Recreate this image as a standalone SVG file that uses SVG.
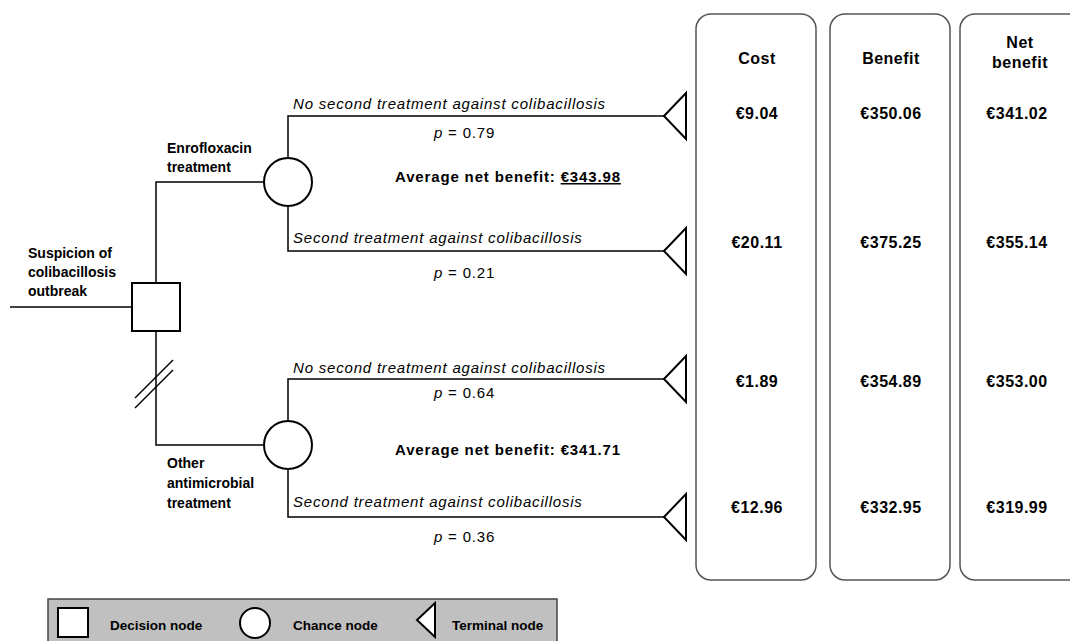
<svg xmlns="http://www.w3.org/2000/svg" width="1070" height="641" viewBox="0 0 1070 641">
<style>
text{font-family:"Liberation Sans",Arial,sans-serif;fill:#000}
.b{font-weight:bold}
.lab{font-size:14px;font-weight:bold}
.val{font-size:16px;font-weight:bold;letter-spacing:0.5px}
.it{font-size:15px;font-style:italic;letter-spacing:0.8px}
.p{font-size:15px;letter-spacing:0.8px}
.avg{font-size:15px;font-weight:bold;letter-spacing:0.85px}
.leg{font-size:13.5px;font-weight:bold}
.ln{stroke:#000;stroke-width:1.5;fill:none}
.nd{stroke:#000;stroke-width:2;fill:#fff}
.panel{fill:#fff;stroke:#555;stroke-width:1.5}
</style>
<rect width="1070" height="641" fill="#fff"/>
<g id="panels">
<rect class="panel" x="696" y="14" width="120" height="566" rx="15"/>
<rect class="panel" x="830" y="14" width="120" height="566" rx="15"/>
<rect class="panel" x="960" y="14" width="130" height="566" rx="15"/>
<g class="val" text-anchor="middle">
<text x="757" y="64">Cost</text>
<text x="891" y="64">Benefit</text>
<text x="1020" y="48">Net</text>
<text x="1020" y="68">benefit</text>
<text x="757" y="119">€9.04</text>
<text x="891" y="119">€350.06</text>
<text x="1017" y="119">€341.02</text>
<text x="757" y="248">€20.11</text>
<text x="891" y="248">€375.25</text>
<text x="1017" y="248">€355.14</text>
<text x="757" y="387">€1.89</text>
<text x="891" y="387">€354.89</text>
<text x="1017" y="387">€353.00</text>
<text x="757" y="513">€12.96</text>
<text x="891" y="513">€332.95</text>
<text x="1017" y="513">€319.99</text>
</g>
</g>
<g id="connectors">
<line class="ln" x1="10" y1="307" x2="132" y2="307"/>
<polyline class="ln" points="156,283 156,182 264,182"/>
<polyline class="ln" points="156,331 156,445 264,445"/>
<line class="ln" x1="135" y1="398" x2="173" y2="360"/>
<line class="ln" x1="135" y1="408" x2="173" y2="370"/>
<polyline class="ln" points="288,158 288,116 664,116"/>
<polyline class="ln" points="288,206 288,251 664,251"/>
<polyline class="ln" points="288,421 288,379 664,379"/>
<polyline class="ln" points="288,469 288,517 664,517"/>
</g>
<g id="decision">
<rect class="nd" x="132" y="283" width="48" height="48"/>
<text class="lab" x="28" y="258">Suspicion of</text>
<text class="lab" x="28" y="277">colibacillosis</text>
<text class="lab" x="28" y="296">outbreak</text>
</g>
<g id="chance1">
<circle class="nd" cx="288" cy="182" r="24"/>
<text class="lab" x="167" y="153">Enrofloxacin</text>
<text class="lab" x="167" y="172">treatment</text>
<text class="avg" x="395" y="182">Average net benefit: <tspan text-decoration="underline">€343.98</tspan></text>
</g>
<g id="chance2">
<circle class="nd" cx="288" cy="445" r="24"/>
<text class="lab" x="167" y="468">Other</text>
<text class="lab" x="167" y="488">antimicrobial</text>
<text class="lab" x="167" y="508">treatment</text>
<text class="avg" x="395" y="455">Average net benefit: €341.71</text>
</g>
<g id="branch1">
<text class="it" x="293" y="109">No second treatment against colibacillosis</text>
<text class="p" x="434" y="138"><tspan font-style="italic">p</tspan> = 0.79</text>
<polygon class="nd" points="664,116 686,93 686,139"/>
</g>
<g id="branch2">
<text class="it" x="293" y="243">Second treatment against colibacillosis</text>
<text class="p" x="434" y="278"><tspan font-style="italic">p</tspan> = 0.21</text>
<polygon class="nd" points="664,251 686,228 686,274"/>
</g>
<g id="branch3">
<text class="it" x="293" y="373">No second treatment against colibacillosis</text>
<text class="p" x="434" y="398"><tspan font-style="italic">p</tspan> = 0.64</text>
<polygon class="nd" points="664,379 686,356 686,402"/>
</g>
<g id="branch4">
<text class="it" x="293" y="507">Second treatment against colibacillosis</text>
<text class="p" x="434" y="542"><tspan font-style="italic">p</tspan> = 0.36</text>
<polygon class="nd" points="664,517 686,494 686,540"/>
</g>
<g id="legend">
<rect x="48" y="599" width="509" height="50" fill="#c0c0c0" stroke="#444" stroke-width="1.5"/>
<rect class="nd" x="58" y="608" width="30" height="29"/>
<text class="leg" x="110" y="630">Decision node</text>
<circle class="nd" cx="255" cy="623" r="15"/>
<text class="leg" x="293" y="630">Chance node</text>
<polygon class="nd" points="417,620 435,603 435,637"/>
<text class="leg" x="452" y="630">Terminal node</text>
</g>
</svg>
